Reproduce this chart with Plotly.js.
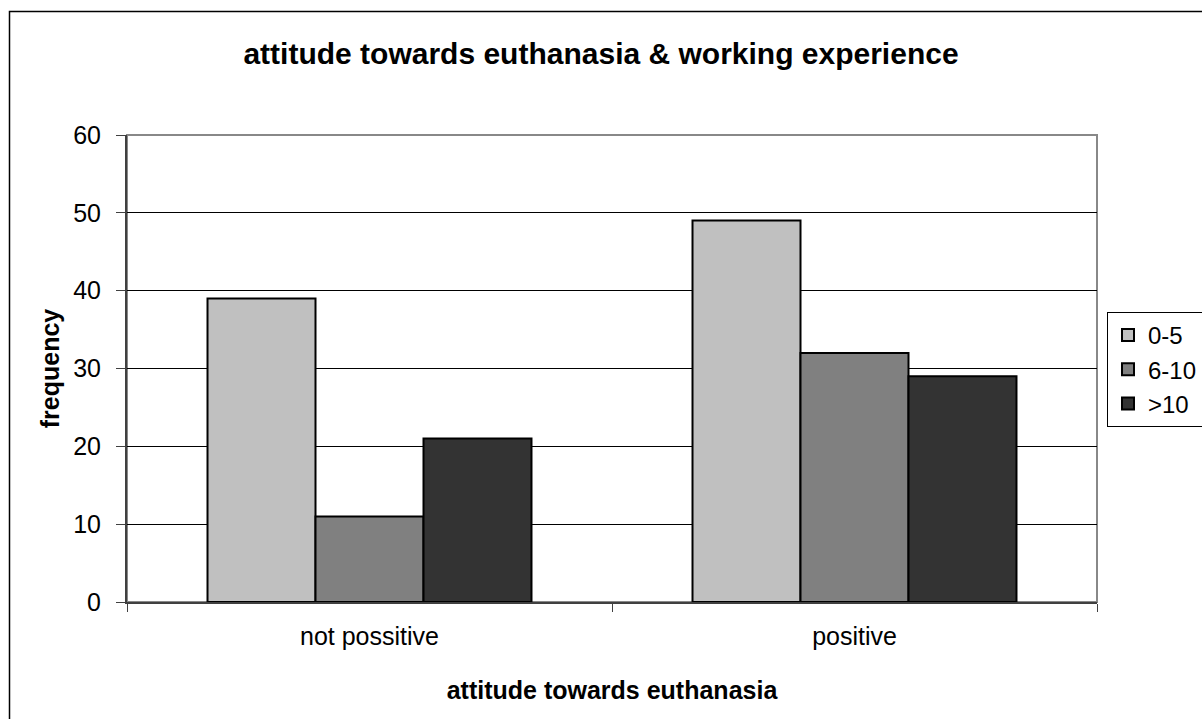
<!DOCTYPE html>
<html>
<head>
<meta charset="utf-8">
<script src="https://cdn.plot.ly/plotly-3.0.1.min.js"></script>
<style>
html,body{margin:0;padding:0;background:#fff;}
#chart{width:1202px;height:719px;}
</style>
</head>
<body>
<div id="chart"></div>
<script>
const categories = ["not possitive", "positive"];
const seriesNames = ["0-5", "6-10", ">10"];
const values05 = [39, 49];
const values610 = [11, 32];
const valuesGt10 = [21, 29];
const yTicks = [0, 10, 20, 30, 40, 50, 60];
const seriesColors = ["#C0C0C0", "#808080", "#333333"];

const allValues = [values05, values610, valuesGt10];
const traces = allValues.map((vals, i) => ({
  type: "bar",
  name: seriesNames[i],
  x: categories,
  y: vals,
  marker: {color: seriesColors[i], line: {color: "#000000", width: 2}},
  hoverinfo: "x+y+name"
}));

const font = "Liberation Sans, Arial, sans-serif";
const layout = {
  width: 1202,
  height: 719,
  margin: {l: 127, r: 105, t: 135, b: 117, pad: 0, autoexpand: false},
  paper_bgcolor: "#ffffff",
  plot_bgcolor: "#ffffff",
  font: {family: font, size: 25, color: "#000"},
  title: {
    text: "<b>attitude towards euthanasia &amp; working experience</b>",
    font: {family: font, size: 30, color: "#000"},
    x: 0.5, xanchor: "center", xref: "container", y: 1 - 53/719, yanchor: "middle"
  },
  barmode: "group",
  bargap: 0.332,
  bargroupgap: 0,
  xaxis: {
    title: {text: "<b>attitude towards euthanasia</b>", font: {family: font, size: 25}, standoff: 32},
    tickson: "boundaries",
    ticks: "outside",
    ticklen: 8,
    tickcolor: "#404040",
    showline: true,
    linecolor: "#404040",
    linewidth: 2,
    tickfont: {family: font, size: 25},
    ticklabelstandoff: 11,
    showgrid: false,
    automargin: false
  },
  yaxis: {
    title: {text: "<b>frequency</b>", font: {family: font, size: 25}, standoff: 6},
    range: [0, 60],
    tickvals: yTicks,
    ticktext: yTicks.map(String),
    ticks: "outside",
    ticklen: 9,
    tickcolor: "#404040",
    showline: true,
    linecolor: "#404040",
    linewidth: 2,
    showgrid: true,
    gridcolor: "#000000",
    gridwidth: 1,
    zeroline: false,
    tickfont: {family: font, size: 25},
    ticklabelstandoff: 10,
    automargin: false
  },
  legend: {
    x: (1107 - 127) / 970,
    y: (602 - 312) / 467,
    xanchor: "left",
    yanchor: "top",
    bordercolor: "#000000",
    borderwidth: 1,
    bgcolor: "#ffffff",
    font: {family: font, size: 24},
    itemwidth: 30,
    tracegroupgap: 0
  },
  shapes: [
    {type: "rect", xref: "paper", yref: "paper", x0: 0, x1: 1, y0: 0, y1: 1,
     line: {color: "#888888", width: 2}, layer: "below"},
    {type: "rect", xref: "paper", yref: "paper",
     x0: (9.5 - 127) / 970, x1: (1230 - 127) / 970,
     y0: (602 - 740) / 467, y1: (602 - 11.5) / 467,
     line: {color: "#000000", width: 1.5}, layer: "below"}
  ]
};

Plotly.newPlot("chart", traces, layout, {displayModeBar: false, staticPlot: true});
</script>
</body>
</html>
